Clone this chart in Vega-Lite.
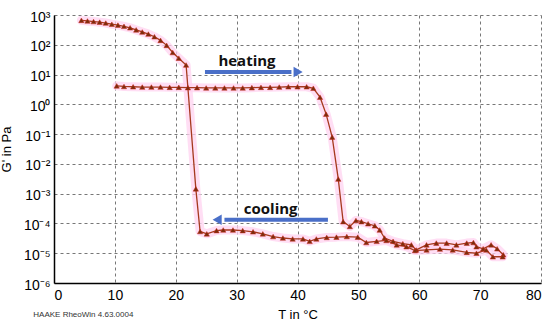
{
  "$schema": "https://vega.github.io/schema/vega-lite/v6.json",
  "width": 487,
  "height": 268,
  "autosize": {"type": "none"},
  "padding": {"left": 54, "top": 15, "right": 9, "bottom": 43},
  "background": "white",
  "config": {"view": {"stroke": null}, "font": "Liberation Sans"},
  "datasets": {
    "curves": [
      {"s": "heating", "i": 1, "T": 10.3, "G": 4.17},
      {"s": "heating", "i": 2, "T": 11.5, "G": 3.98},
      {"s": "heating", "i": 3, "T": 13.0, "G": 3.89},
      {"s": "heating", "i": 4, "T": 14.5, "G": 3.8},
      {"s": "heating", "i": 5, "T": 16.0, "G": 3.8},
      {"s": "heating", "i": 6, "T": 17.5, "G": 3.8},
      {"s": "heating", "i": 7, "T": 19.0, "G": 3.72},
      {"s": "heating", "i": 8, "T": 20.5, "G": 3.72},
      {"s": "heating", "i": 9, "T": 22.0, "G": 3.63},
      {"s": "heating", "i": 10, "T": 23.5, "G": 3.63},
      {"s": "heating", "i": 11, "T": 25.0, "G": 3.55},
      {"s": "heating", "i": 12, "T": 26.5, "G": 3.55},
      {"s": "heating", "i": 13, "T": 28.0, "G": 3.55},
      {"s": "heating", "i": 14, "T": 29.5, "G": 3.55},
      {"s": "heating", "i": 15, "T": 31.0, "G": 3.55},
      {"s": "heating", "i": 16, "T": 32.5, "G": 3.63},
      {"s": "heating", "i": 17, "T": 34.0, "G": 3.72},
      {"s": "heating", "i": 18, "T": 35.5, "G": 3.72},
      {"s": "heating", "i": 19, "T": 37.0, "G": 3.8},
      {"s": "heating", "i": 20, "T": 38.5, "G": 3.89},
      {"s": "heating", "i": 21, "T": 40.0, "G": 3.89},
      {"s": "heating", "i": 22, "T": 41.5, "G": 3.89},
      {"s": "heating", "i": 23, "T": 42.6, "G": 3.47},
      {"s": "heating", "i": 24, "T": 43.7, "G": 1.74},
      {"s": "heating", "i": 25, "T": 44.7, "G": 0.468},
      {"s": "heating", "i": 26, "T": 45.7, "G": 0.0794},
      {"s": "heating", "i": 27, "T": 46.7, "G": 0.00309},
      {"s": "heating", "i": 28, "T": 47.5, "G": 0.000115},
      {"s": "heating", "i": 29, "T": 48.6, "G": 0.0000794},
      {"s": "heating", "i": 30, "T": 49.6, "G": 0.000126},
      {"s": "heating", "i": 31, "T": 50.5, "G": 0.000115},
      {"s": "heating", "i": 32, "T": 51.6, "G": 0.0000977},
      {"s": "heating", "i": 33, "T": 52.7, "G": 0.0000832},
      {"s": "heating", "i": 34, "T": 53.5, "G": 0.0000603},
      {"s": "heating", "i": 35, "T": 54.3, "G": 0.0000324},
      {"s": "heating", "i": 36, "T": 55.7, "G": 0.0000251},
      {"s": "heating", "i": 37, "T": 57.3, "G": 0.0000209},
      {"s": "heating", "i": 38, "T": 58.7, "G": 0.0000191},
      {"s": "heating", "i": 39, "T": 59.5, "G": 0.0000129},
      {"s": "heating", "i": 40, "T": 61.2, "G": 0.0000191},
      {"s": "heating", "i": 41, "T": 62.8, "G": 0.0000219},
      {"s": "heating", "i": 42, "T": 64.5, "G": 0.0000219},
      {"s": "heating", "i": 43, "T": 66.1, "G": 0.0000191},
      {"s": "heating", "i": 44, "T": 67.8, "G": 0.0000219},
      {"s": "heating", "i": 45, "T": 68.9, "G": 0.0000229},
      {"s": "heating", "i": 46, "T": 69.4, "G": 0.0000166},
      {"s": "heating", "i": 47, "T": 70.5, "G": 0.0000141},
      {"s": "heating", "i": 48, "T": 71.8, "G": 0.0000191},
      {"s": "heating", "i": 49, "T": 72.8, "G": 0.0000141},
      {"s": "heating", "i": 50, "T": 73.8, "G": 0.0000089},
      {"s": "cooling", "i": 1, "T": 73.7, "G": 0.0000076},
      {"s": "cooling", "i": 2, "T": 72.1, "G": 0.0000076},
      {"s": "cooling", "i": 3, "T": 71.0, "G": 0.0000129},
      {"s": "cooling", "i": 4, "T": 69.4, "G": 0.00001},
      {"s": "cooling", "i": 5, "T": 67.8, "G": 0.0000107},
      {"s": "cooling", "i": 6, "T": 65.5, "G": 0.0000129},
      {"s": "cooling", "i": 7, "T": 63.4, "G": 0.0000138},
      {"s": "cooling", "i": 8, "T": 61.2, "G": 0.0000129},
      {"s": "cooling", "i": 9, "T": 59.3, "G": 0.0000123},
      {"s": "cooling", "i": 10, "T": 57.9, "G": 0.0000166},
      {"s": "cooling", "i": 11, "T": 56.3, "G": 0.0000191},
      {"s": "cooling", "i": 12, "T": 54.6, "G": 0.0000269},
      {"s": "cooling", "i": 13, "T": 53.0, "G": 0.0000251},
      {"s": "cooling", "i": 14, "T": 51.3, "G": 0.0000229},
      {"s": "cooling", "i": 15, "T": 49.9, "G": 0.0000347},
      {"s": "cooling", "i": 16, "T": 48.1, "G": 0.0000363},
      {"s": "cooling", "i": 17, "T": 46.4, "G": 0.0000347},
      {"s": "cooling", "i": 18, "T": 44.8, "G": 0.0000339},
      {"s": "cooling", "i": 19, "T": 43.1, "G": 0.0000302},
      {"s": "cooling", "i": 20, "T": 42.0, "G": 0.0000251},
      {"s": "cooling", "i": 21, "T": 40.9, "G": 0.0000302},
      {"s": "cooling", "i": 22, "T": 39.2, "G": 0.0000302},
      {"s": "cooling", "i": 23, "T": 37.6, "G": 0.0000324},
      {"s": "cooling", "i": 24, "T": 36.0, "G": 0.0000363},
      {"s": "cooling", "i": 25, "T": 34.3, "G": 0.0000447},
      {"s": "cooling", "i": 26, "T": 32.7, "G": 0.0000525},
      {"s": "cooling", "i": 27, "T": 31.0, "G": 0.0000575},
      {"s": "cooling", "i": 28, "T": 29.4, "G": 0.0000603},
      {"s": "cooling", "i": 29, "T": 27.8, "G": 0.0000603},
      {"s": "cooling", "i": 30, "T": 26.7, "G": 0.0000575},
      {"s": "cooling", "i": 31, "T": 25.1, "G": 0.0000447},
      {"s": "cooling", "i": 32, "T": 24.0, "G": 0.0000537},
      {"s": "cooling", "i": 33, "T": 23.3, "G": 0.00145},
      {"s": "cooling", "i": 34, "T": 21.7, "G": 20.9},
      {"s": "cooling", "i": 35, "T": 20.5, "G": 35.5},
      {"s": "cooling", "i": 36, "T": 19.5, "G": 55},
      {"s": "cooling", "i": 37, "T": 18.5, "G": 95.5},
      {"s": "cooling", "i": 38, "T": 17.5, "G": 141},
      {"s": "cooling", "i": 39, "T": 16.5, "G": 186},
      {"s": "cooling", "i": 40, "T": 15.5, "G": 229},
      {"s": "cooling", "i": 41, "T": 14.5, "G": 269},
      {"s": "cooling", "i": 42, "T": 13.5, "G": 316},
      {"s": "cooling", "i": 43, "T": 12.5, "G": 372},
      {"s": "cooling", "i": 44, "T": 11.5, "G": 417},
      {"s": "cooling", "i": 45, "T": 10.5, "G": 457},
      {"s": "cooling", "i": 46, "T": 9.5, "G": 490},
      {"s": "cooling", "i": 47, "T": 8.5, "G": 537},
      {"s": "cooling", "i": 48, "T": 7.5, "G": 575},
      {"s": "cooling", "i": 49, "T": 6.5, "G": 603},
      {"s": "cooling", "i": 50, "T": 5.5, "G": 631},
      {"s": "cooling", "i": 51, "T": 4.5, "G": 661}
    ],
    "arrows": [
      {"label": "heating", "T": 24.8, "T2": 39.0, "G": 12.2, "tip": 40.1, "dir": "triangle-right"},
      {"label": "cooling", "T": 45.0, "T2": 28.0, "G": 0.000132, "tip": 26.8, "dir": "triangle-left"}
    ],
    "labels": [
      {"label": "heating", "T": 31.7, "G": 28.6},
      {"label": "cooling", "T": 35.6, "G": 0.00031}
    ],
    "footer": [
      {"label": "HAAKE RheoWin 4.63.0004", "T": -3.4, "G": 0.000000085}
    ]
  },
  "layer": [
    {
      "data": {"name": "curves"},
      "mark": {"type": "line", "strokeWidth": 9, "color": "#ffd3f0", "opacity": 0.75, "strokeCap": "round", "strokeJoin": "round"},
      "encoding": {
        "x": {
          "field": "T", "type": "quantitative",
          "scale": {"domain": [0, 80], "nice": false, "zero": false},
          "axis": {
            "title": "T in °C", "values": [0, 10, 20, 30, 40, 50, 60, 70, 80],
            "grid": true, "gridDash": [3, 3], "gridColor": "#777777", "gridWidth": 1,
            "domainColor": "#000000", "domainWidth": 1.5, "ticks": false,
            "labelFontSize": 14, "labelColor": "#000000", "labelPadding": 5,
            "titleFontSize": 13, "titleFontWeight": "normal", "titleColor": "#000000", "titlePadding": 6
          }
        },
        "y": {
          "field": "G", "type": "quantitative",
          "scale": {"type": "log", "domain": [0.000001, 1000], "nice": false},
          "axis": {
            "title": "G' in Pa",
            "values": [0.000001, 0.00001, 0.0001, 0.001, 0.01, 0.1, 1, 10, 100, 1000],
            "labelExpr": "datum.value > 500 ? '10³' : datum.value > 50 ? '10²' : datum.value > 5 ? '10¹' : datum.value > 0.5 ? '10⁰' : datum.value > 0.05 ? '10⁻¹' : datum.value > 0.005 ? '10⁻²' : datum.value > 0.0005 ? '10⁻³' : datum.value > 0.00005 ? '10⁻⁴' : datum.value > 0.000005 ? '10⁻⁵' : '10⁻⁶'",
            "grid": true, "gridDash": [3, 3], "gridColor": "#777777", "gridWidth": 1,
            "domainColor": "#000000", "domainWidth": 1.5, "ticks": false,
            "labelFontSize": 14, "labelColor": "#000000", "labelPadding": 4, "labelOffset": 2,
            "titleFontSize": 13, "titleFontWeight": "normal", "titleColor": "#000000", "titlePadding": 10
          }
        },
        "detail": {"field": "s"},
        "order": {"field": "i", "type": "quantitative"}
      }
    },
    {
      "data": {"name": "curves"},
      "mark": {"type": "line", "strokeWidth": 1.3, "color": "#a63a1e"},
      "encoding": {
        "x": {"field": "T", "type": "quantitative"},
        "y": {"field": "G", "type": "quantitative"},
        "detail": {"field": "s"},
        "order": {"field": "i", "type": "quantitative"}
      }
    },
    {
      "data": {"name": "curves"},
      "mark": {"type": "point", "shape": "triangle-up", "filled": true, "size": 28, "color": "#7a2e0c", "stroke": "#c8261c", "strokeWidth": 0.5, "opacity": 1},
      "encoding": {
        "x": {"field": "T", "type": "quantitative"},
        "y": {"field": "G", "type": "quantitative"}
      }
    },
    {
      "data": {"name": "arrows"},
      "mark": {"type": "rule", "strokeWidth": 4, "color": "#4a6fc8"},
      "encoding": {
        "x": {"field": "T", "type": "quantitative"},
        "x2": {"field": "T2"},
        "y": {"field": "G", "type": "quantitative"}
      }
    },
    {
      "data": {"name": "arrows"},
      "mark": {"type": "point", "filled": true, "size": 110, "color": "#4a6fc8", "opacity": 1},
      "encoding": {
        "x": {"field": "tip", "type": "quantitative"},
        "y": {"field": "G", "type": "quantitative"},
        "shape": {"field": "dir", "type": "nominal", "scale": null}
      }
    },
    {
      "data": {"name": "labels"},
      "mark": {"type": "text", "font": "Open Sans", "fontSize": 15, "fontWeight": "bold", "color": "#111111", "align": "center", "baseline": "middle"},
      "encoding": {
        "x": {"field": "T", "type": "quantitative"},
        "y": {"field": "G", "type": "quantitative"},
        "text": {"field": "label"}
      }
    },
    {
      "data": {"name": "footer"},
      "mark": {"type": "text", "fontSize": 8, "color": "#333333", "align": "left", "baseline": "middle"},
      "encoding": {
        "x": {"field": "T", "type": "quantitative"},
        "y": {"field": "G", "type": "quantitative"},
        "text": {"field": "label"}
      }
    }
  ]
}
